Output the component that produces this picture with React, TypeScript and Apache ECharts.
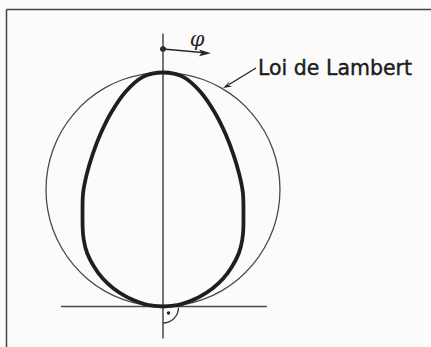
import React, { useEffect, useRef } from "react";
import * as echarts from "echarts";

// Polar diagram: angle from the vertical (degrees), relative intensity
const angles = [0, 5, 10, 15, 20, 25, 30, 35, 40, 45, 50, 55, 60, 65, 70, 75, 80, 85, 90];
const lambert = [1.0, 0.996, 0.985, 0.966, 0.94, 0.906, 0.866, 0.819, 0.766, 0.707, 0.643, 0.574, 0.5, 0.423, 0.342, 0.259, 0.174, 0.087, 0.0];
const egg = [1.0, 0.985, 0.93, 0.857, 0.783, 0.714, 0.652, 0.595, 0.535, 0.486, 0.442, 0.395, 0.34, 0.285, 0.225, 0.163, 0.104, 0.062, 0.0];
const verticalAxis = [[1.167, 0], [0.137, 180]];
const baseLine = [[0.436, -90], [0.444, 90]];
const labelText = "Loi de Lambert";
const phiText = "φ";

function mirror(vals: number[]) {
  const out: number[][] = [];
  for (let i = angles.length - 1; i >= 1; i--) out.push([vals[i], -angles[i]]);
  for (let i = 0; i < angles.length; i++) out.push([vals[i], angles[i]]);
  return out;
}

export default function App() {
  const ref = useRef<HTMLDivElement>(null);
  useEffect(() => {
    if (!ref.current) return;
    const chart = echarts.init(ref.current, null, { renderer: "svg" });
    const ink = "#262626";
    chart.setOption({
      animation: false,
      backgroundColor: "#fbfbfb",
      polar: { center: [163, 306.5], radius: 280.8 },
      angleAxis: {
        type: "value", min: -180, max: 180, startAngle: 270, clockwise: true, show: false,
        axisLine: { show: false }, axisTick: { show: false }, axisLabel: { show: false }, splitLine: { show: false },
      },
      radiusAxis: {
        type: "value", min: 0, max: 1.2, show: false,
        axisLine: { show: false }, axisTick: { show: false }, axisLabel: { show: false }, splitLine: { show: false },
      },
      series: [
        {
          type: "line", coordinateSystem: "polar", data: verticalAxis, symbol: "none", silent: true,
          lineStyle: { color: "#3a3a3a", width: 1.4 }, z: 1,
        },
        {
          type: "line", coordinateSystem: "polar", data: baseLine, symbol: "none", silent: true,
          lineStyle: { color: "#4a4a4a", width: 1.6 }, z: 1,
        },
        {
          type: "line", coordinateSystem: "polar", data: mirror(lambert), symbol: "none", smooth: 0.3,
          lineStyle: { color: "#4a4a4a", width: 1.3 }, z: 2,
        },
        {
          type: "line", coordinateSystem: "polar", data: mirror(egg), symbol: "none", smooth: 0.3,
          lineStyle: { color: "#1f1f1f", width: 3.8 }, z: 3,
        },
      ],
      graphic: [
        { type: "line", shape: { x1: 6.5, y1: 9.5, x2: 431, y2: 9.5 }, style: { stroke: "#444", lineWidth: 1.5 } },
        { type: "line", shape: { x1: 6.5, y1: 9.5, x2: 6.5, y2: 347 }, style: { stroke: "#444", lineWidth: 1.5 } },
        { type: "circle", shape: { cx: 163, cy: 49, r: 3 }, style: { fill: ink } },
        { type: "line", shape: { x1: 163, y1: 49, x2: 202, y2: 52.5 }, style: { stroke: ink, lineWidth: 1.4 } },
        { type: "polygon", shape: { points: [[211, 53.3], [199, 49.6], [201.5, 53], [199, 56.2]] }, style: { fill: ink } },
        { type: "text", style: { text: phiText, x: 197, y: 39, align: "center", verticalAlign: "middle", fontSize: 21, fontStyle: "italic", fontFamily: "DejaVu Serif", fill: ink } },
        { type: "line", shape: { x1: 256, y1: 68, x2: 229, y2: 84.5 }, style: { stroke: ink, lineWidth: 1.4 } },
        { type: "polygon", shape: { points: [[223, 88], [229.5, 81.5], [228, 85], [232, 86.5]] }, style: { fill: ink } },
        { type: "text", style: { text: labelText, x: 258, y: 67.5, verticalAlign: "middle", fontSize: 20.5, fontFamily: "DejaVu Sans", fill: "#1c1c1c", textStrokeWidth: 0.4, stroke: "#1c1c1c" } },
        { type: "arc", shape: { cx: 163, cy: 307.5, r: 15.5, startAngle: 0, endAngle: Math.PI / 2, clockwise: true }, style: { stroke: "#3a3a3a", lineWidth: 1.3, fill: "none" } },
        { type: "circle", shape: { cx: 168.5, cy: 313, r: 1.7 }, style: { fill: ink } },
      ],
    });
    return () => chart.dispose();
  }, []);
  return <div ref={ref} style={{ position: "fixed", left: 0, top: 0, width: 431, height: 347 }} />;
}
